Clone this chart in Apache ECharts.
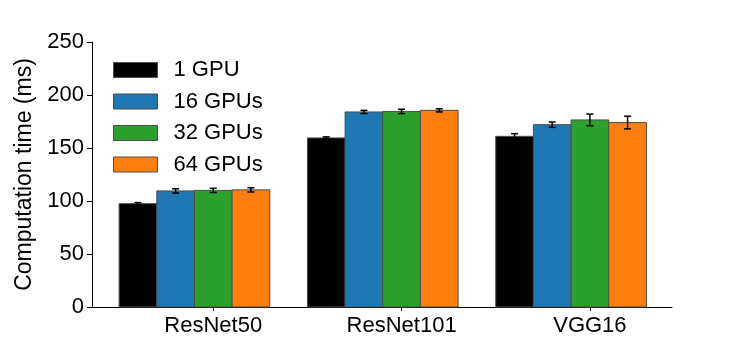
<!DOCTYPE html>
<html>
<head>
<meta charset="utf-8">
<script src="https://cdn.jsdelivr.net/npm/echarts@6/dist/echarts.min.js"></script>
<style>
  html, body { margin: 0; padding: 0; background: #fff; }
  #chart { width: 747px; height: 345px; }
</style>
</head>
<body>
<div id="chart"></div>
<script>
// 数据
var categories = ['ResNet50', 'ResNet101', 'VGG16'];
var seriesNames = ['1 GPU', '16 GPUs', '32 GPUs', '64 GPUs'];
var colors = ['#000000', '#1f77b4', '#2ca02c', '#ff7f0e'];
var gpu1 = [97.5, 159.5, 161];
var gpu16 = [109.5, 184, 172];
var gpu32 = [110, 184.5, 176.5];
var gpu64 = [110.5, 185.5, 174];
var err1 = [1, 1, 2.5];
var err16 = [2, 1.5, 2.5];
var err32 = [2, 2, 5.5];
var err64 = [2, 1.5, 6];
var yTicks = [0, 50, 100, 150, 200, 250];

var values = [gpu1, gpu16, gpu32, gpu64];
var errors = [err1, err16, err32, err64];
var barW = 0.2;
var offsets = [-0.3, -0.1, 0.1, 0.3];
var font = 'Liberation Sans, Arial, sans-serif';

var chart = echarts.init(document.getElementById('chart'));

// 柱子 + 误差线
function renderBar(params, api) {
    var x = api.value(0), y = api.value(1), e = api.value(2);
    var p0 = api.coord([x - barW / 2, 0]);
    var p1 = api.coord([x + barW / 2, y]);
    var top = api.coord([x, y + e]);
    var bot = api.coord([x, y - e]);
    var cx = (p0[0] + p1[0]) / 2;
    var errStyle = { stroke: '#000', lineWidth: 1.5 };
    return {
        type: 'group',
        children: [{
            type: 'rect',
            shape: { x: p0[0], y: p1[1], width: p1[0] - p0[0], height: p0[1] - p1[1] },
            style: { fill: api.visual('color'), stroke: '#4d4d4d', lineWidth: 1 }
        }, {
            type: 'line', shape: { x1: cx, y1: top[1], x2: cx, y2: bot[1] }, style: errStyle
        }, {
            type: 'line', shape: { x1: cx - 3.5, y1: top[1], x2: cx + 3.5, y2: top[1] }, style: errStyle
        }, {
            type: 'line', shape: { x1: cx - 3.5, y1: bot[1], x2: cx + 3.5, y2: bot[1] }, style: errStyle
        }]
    };
}

var series = seriesNames.map(function (name, k) {
    return {
        name: name,
        type: 'custom',
        renderItem: renderBar,
        itemStyle: { color: colors[k] },
        encode: { x: 0, y: 1 },
        data: categories.map(function (c, i) {
            return [i + offsets[k], values[k][i], errors[k][i]];
        })
    };
});

var option = {
    animation: false,
    textStyle: { fontFamily: font },
    grid: { left: 92, right: 75, top: 42, bottom: 38 },
    legend: {
        data: seriesNames,
        orient: 'vertical',
        left: 108,
        top: 54,
        icon: 'rect',
        itemWidth: 44,
        itemHeight: 15,
        itemGap: 9.5,
        itemStyle: { borderColor: '#4d4d4d', borderWidth: 1 },
        textStyle: { fontSize: 22, color: '#000', fontFamily: font, lineHeight: 20, padding: [0, 0, 0, 11] }
    },
    xAxis: {
        type: 'value',
        min: -0.544,
        max: 2.536,
        splitLine: { show: false },
        axisLine: { onZero: false, lineStyle: { color: '#000', width: 1 } },
        axisTick: { show: true, length: 4, customValues: [0.1, 1.1, 2.1], lineStyle: { color: '#000' } },
        axisLabel: {
            customValues: [0.1, 1.1, 2.1],
            fontSize: 22,
            color: '#000',
            margin: 8,
            formatter: function (v) { return categories[Math.round(v - 0.1)]; }
        }
    },
    yAxis: {
        type: 'value',
        min: yTicks[0],
        max: yTicks[yTicks.length - 1],
        interval: 50,
        name: 'Computation time (ms)',
        nameLocation: 'middle',
        nameGap: 50,
        nameTextStyle: { fontSize: 23, color: '#000' },
        splitLine: { show: false },
        axisLine: { show: true, onZero: false, lineStyle: { color: '#000', width: 1 } },
        axisTick: { show: true, length: 5, lineStyle: { color: '#000' } },
        axisLabel: { fontSize: 22, color: '#000', margin: 8 }
    },
    series: series
};

chart.setOption(option);
</script>
</body>
</html>
